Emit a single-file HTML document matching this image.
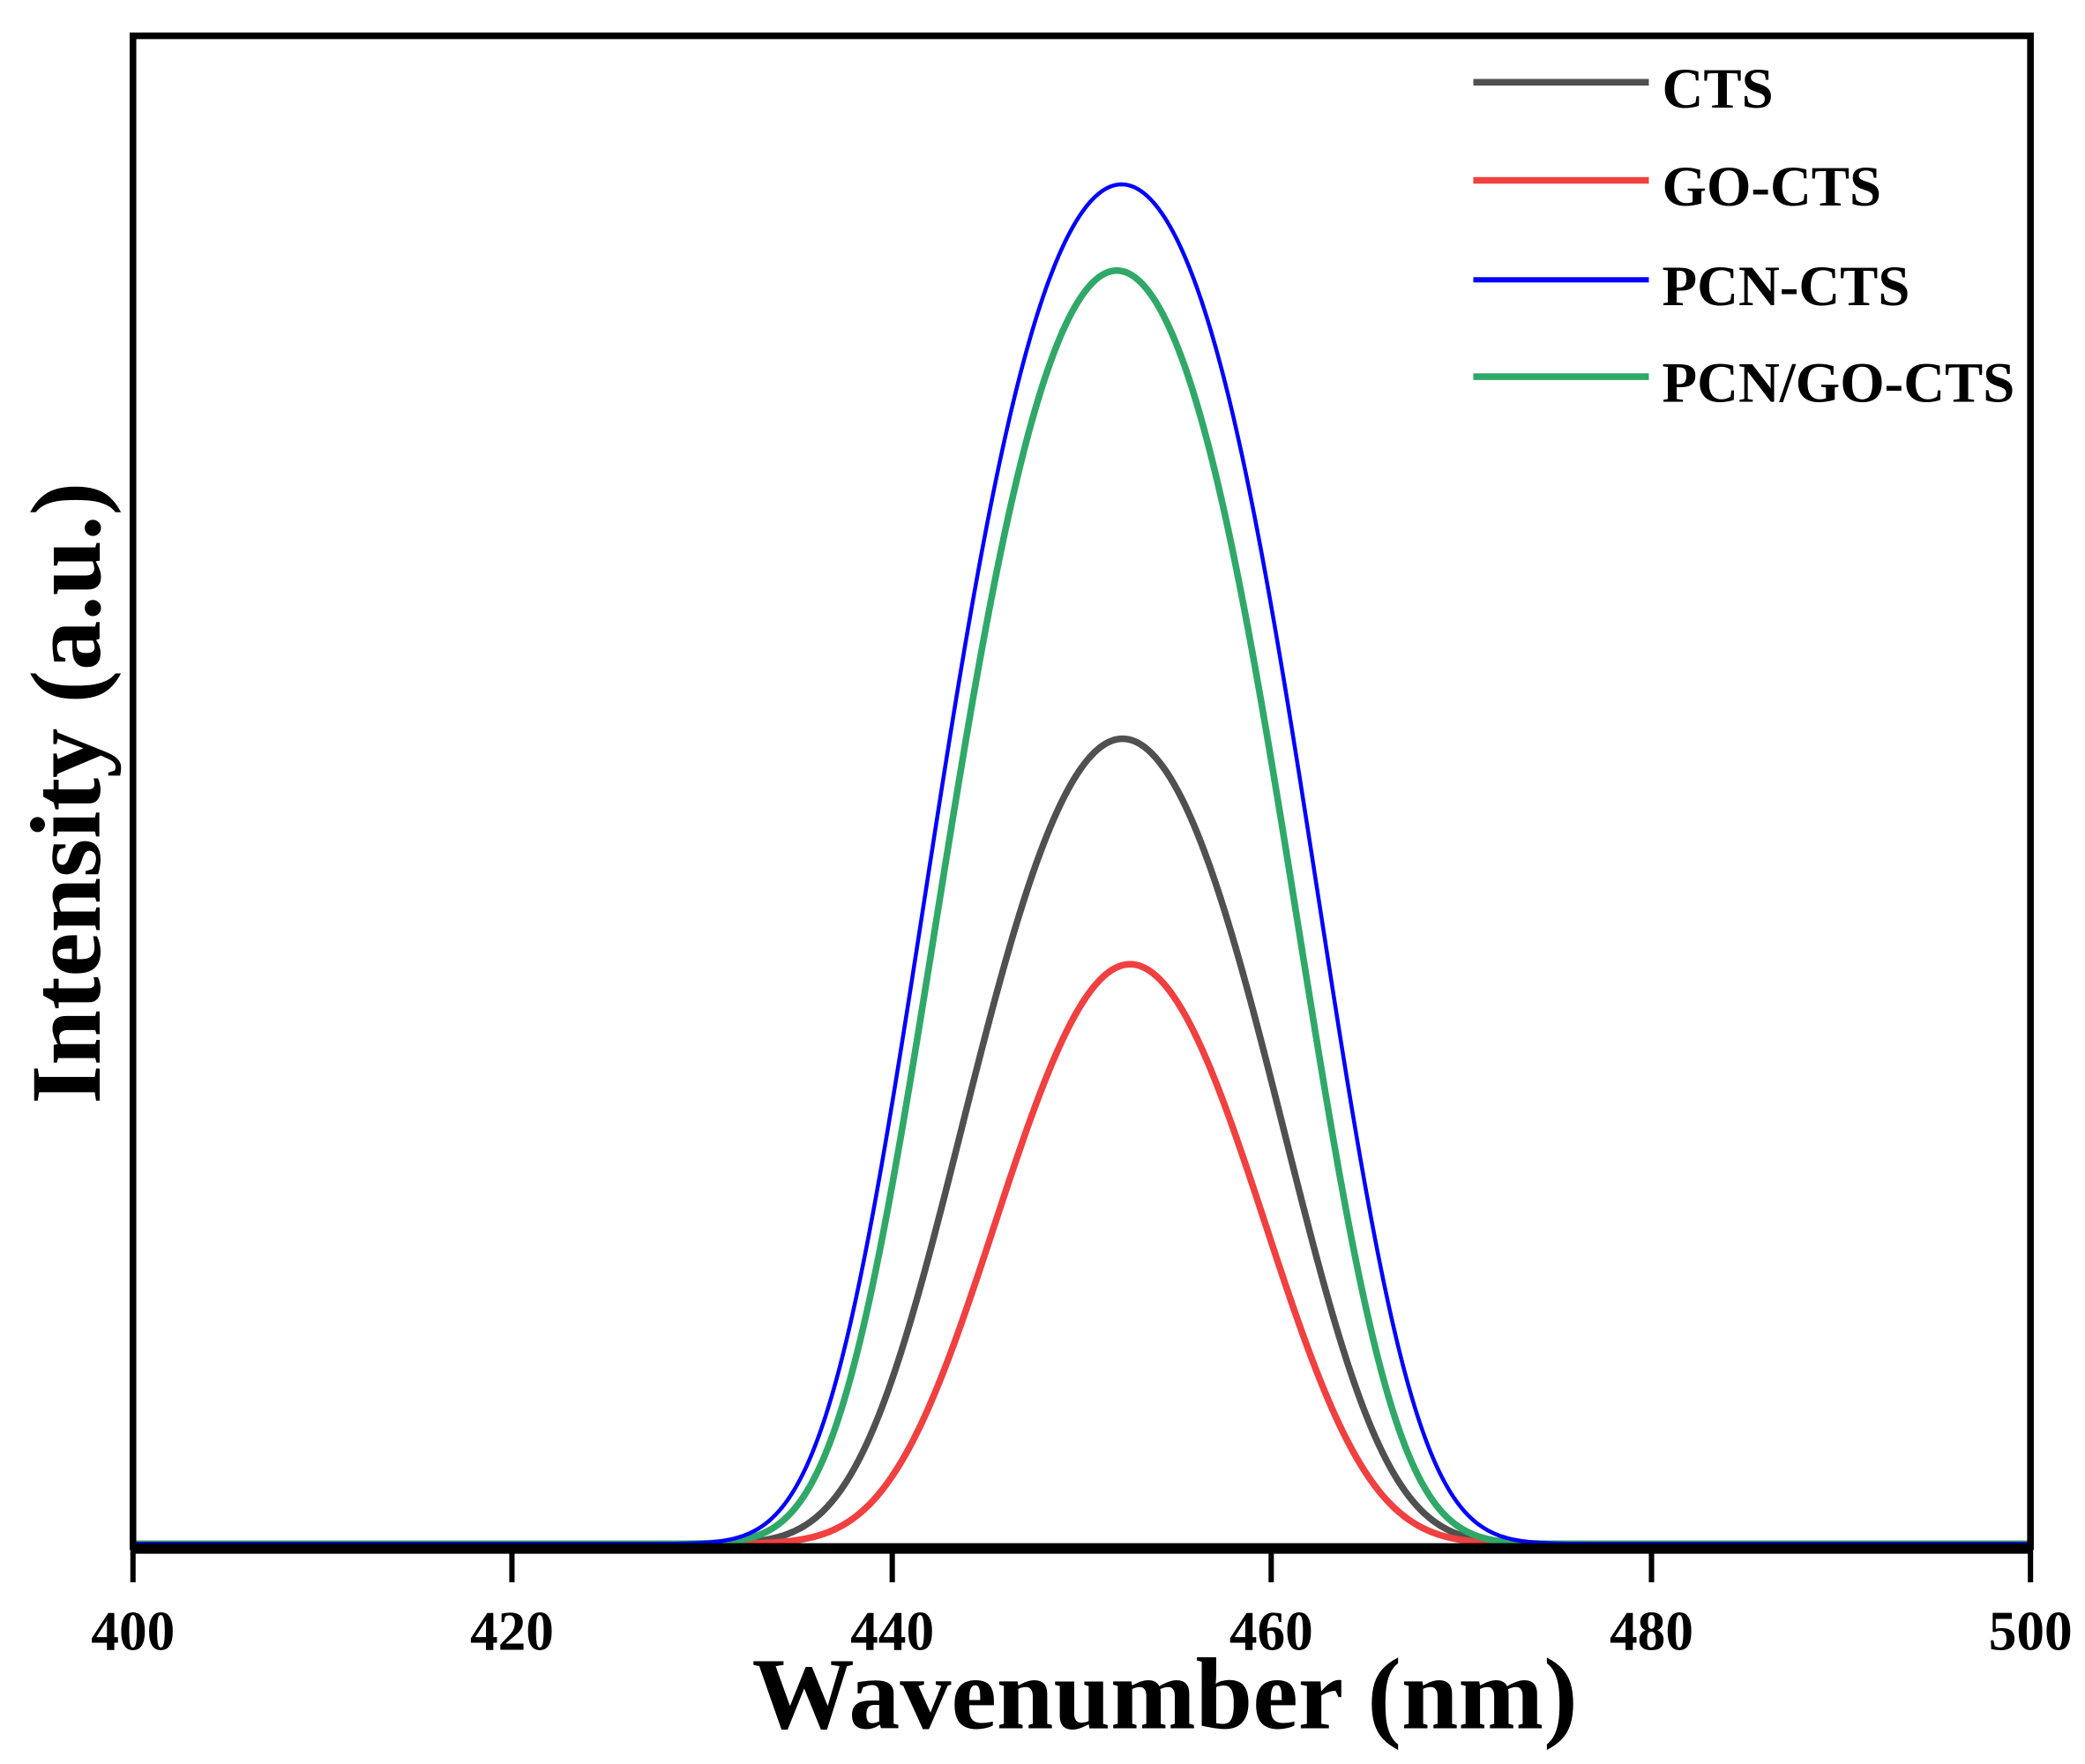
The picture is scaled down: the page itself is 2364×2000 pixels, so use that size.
<!DOCTYPE html>
<html><head><meta charset="utf-8"><style>
html,body{margin:0;padding:0;background:#fff;}
svg{display:block}
text{font-family:"Liberation Serif",serif;font-weight:bold;fill:#000}
</style></head><body>
<svg id="s" width="2364" height="2000" viewBox="0 0 1568 1330" preserveAspectRatio="none" xmlns="http://www.w3.org/2000/svg">
<rect x="0" y="0" width="1568" height="1330" fill="#fff"/>
<g id="curves"></g>
<rect x="100" y="27" width="1427" height="1139" fill="none" stroke="#000" stroke-width="5"/>
<line x1="100" y1="1168" x2="1527" y2="1168" stroke="#000" stroke-width="7"/>
<g stroke="#000" stroke-width="4">
<line x1="100" y1="1166" x2="100" y2="1193"/>
<line x1="385" y1="1166" x2="385" y2="1193"/>
<line x1="671" y1="1166" x2="671" y2="1193"/>
<line x1="956" y1="1166" x2="956" y2="1193"/>
<line x1="1242" y1="1166" x2="1242" y2="1193"/>
<line x1="1527" y1="1166" x2="1527" y2="1193"/>
</g>
<g font-size="42" text-anchor="middle">
<text x="100" y="1244">400</text>
<text x="385" y="1244">420</text>
<text x="671" y="1244">440</text>
<text x="956" y="1244">460</text>
<text x="1242" y="1244">480</text>
<text x="1527" y="1244">500</text>
</g>
<text x="876" y="1303" font-size="77" text-anchor="middle">Wavenumber (nm)</text>
<text transform="translate(75,598) rotate(-90)" font-size="75" text-anchor="middle">Intensity (a.u.)</text>
<g stroke-width="5">
<line x1="1108" y1="62" x2="1240" y2="62" stroke="#505050"/>
<line x1="1108" y1="136" x2="1240" y2="136" stroke="#f04040"/>
<line x1="1108" y1="211" x2="1240" y2="211" stroke="#0000ff" stroke-width="4"/>
<line x1="1108" y1="284" x2="1240" y2="284" stroke="#30a868"/>
</g>
<g font-size="43">
<text x="1250" y="81">CTS</text>
<text x="1250" y="155">GO-CTS</text>
<text x="1250" y="230">PCN-CTS</text>
<text x="1250" y="303">PCN/GO-CTS</text>
</g>
</svg>
<script>
(function(){
var series=[
 {c:"#505050",mu:452.15,F:17.3,k:0.2,h:607,w:5},
 {c:"#f04040",mu:452.55,F:15.3,k:0.1,h:437,w:5},
 {c:"#30a868",mu:451.85,F:18.8,k:0.35,h:960,w:5},
 {c:"#0000ff",mu:452.1,F:20.2,k:0.45,h:1025,w:3}
];
var g=document.getElementById("curves");
series.forEach(function(o){
 var d="",k=o.k;
 for(var nm=400;nm<=500.001;nm+=0.1){
  var x=100+(nm-400)*14.27;
  var t=Math.abs(nm-o.mu)/(o.F/2);
  var v=Math.exp(-Math.LN2*(t*t+k*t*t*t*t)/(1+k));
  var y=1164-o.h*v;
  d+=(d?"L":"M")+x.toFixed(2)+" "+y.toFixed(2);
 }
 var p=document.createElementNS("http://www.w3.org/2000/svg","path");
 p.setAttribute("d",d);p.setAttribute("fill","none");
 p.setAttribute("stroke",o.c);p.setAttribute("stroke-width",o.w);
 g.appendChild(p);
});
})();
</script>
</body></html>
